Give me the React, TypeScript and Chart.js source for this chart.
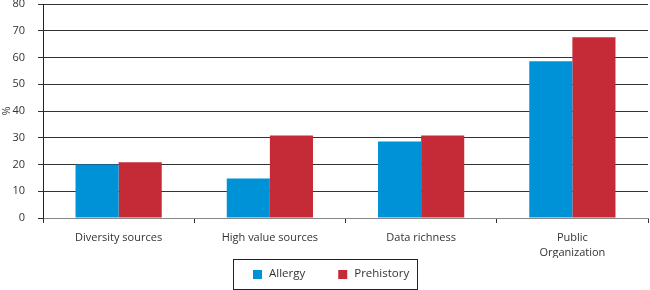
import React, { useEffect, useRef } from "react";
import { Chart, registerables } from "chart.js";

Chart.register(...registerables);

const categories: (string | string[])[] = [
  "Diversity sources",
  "High value sources",
  "Data richness",
  ["Public", "Organization"],
];
const allergy = [20, 14.8, 28.6, 58.6];
const prehistory = [20.8, 30.8, 30.8, 67.6];
const seriesNames = ["Allergy", "Prehistory"];
const yTitle = "%";

const FONT = "'Open Sans', sans-serif";
const TEXT = "#333";

const boxedLegend = {
  id: "boxedLegend",
  afterDraw(chart: any) {
    const ctx = chart.ctx;
    const sets = chart.data.datasets;
    ctx.save();
    ctx.font = `11.5px ${FONT}`;
    const sq = 9;
    const gapText = 7;
    const gapItem = 33;
    const widths = sets.map((d: any) => ctx.measureText(d.label).width);
    let content = 0;
    widths.forEach((w: number, i: number) => {
      content += sq + gapText + w + (i < widths.length - 1 ? gapItem : 0);
    });
    const padL = 20;
    const padR = 8;
    const boxW = content + padL + padR;
    const boxH = 30;
    const left = Math.round(chart.width / 2 - boxW / 2);
    const top = chart.chartArea.bottom + 41;
    ctx.strokeStyle = "#222";
    ctx.lineWidth = 1;
    ctx.strokeRect(left + 0.5, top + 0.5, Math.round(boxW), boxH);
    const cy = top + boxH / 2;
    let x = left + padL;
    ctx.textBaseline = "middle";
    ctx.textAlign = "left";
    sets.forEach((d: any, i: number) => {
      ctx.fillStyle = d.backgroundColor;
      ctx.fillRect(x, Math.round(cy - sq / 2), sq, sq);
      x += sq + gapText;
      ctx.fillStyle = TEXT;
      ctx.fillText(d.label, x, cy);
      x += widths[i] + gapItem;
    });
    ctx.restore();
  },
};

export default function App() {
  const ref = useRef<HTMLCanvasElement>(null);
  useEffect(() => {
    document.body.style.margin = "0";
    const chart = new Chart(ref.current!, {
      type: "bar",
      data: {
        labels: categories,
        datasets: [
          { label: seriesNames[0], data: allergy, backgroundColor: "#0092d7", borderWidth: 0 },
          { label: seriesNames[1], data: prehistory, backgroundColor: "#c52b36", borderWidth: 0 },
        ],
      },
      options: {
        animation: false,
        responsive: false,
        layout: { padding: { top: 4, right: 2, left: 0, bottom: 32 } },
        datasets: { bar: { categoryPercentage: 0.57, barPercentage: 1 } },
        plugins: {
          tooltip: { enabled: false },
          legend: { display: false },
        },
        scales: {
          x: {
            grid: { drawOnChartArea: false, drawTicks: true, tickLength: 5, color: "#333", offset: true },
            border: { display: true, color: "#888" },
            ticks: { color: TEXT, font: { family: FONT, size: 11, lineHeight: 1.3 }, padding: 8, maxRotation: 0 },
            afterFit(scale: any) {
              scale.height = 40;
              scale.paddingLeft = 0;
              scale.paddingRight = 0;
            },
          },
          y: {
            min: 0,
            max: 80,
            ticks: { stepSize: 10, color: TEXT, font: { family: FONT, size: 11 }, padding: 13 },
            grid: { color: "#333", tickLength: 5 },
            border: { display: true, color: "#222" },
            title: { display: true, text: yTitle, color: TEXT, font: { family: FONT, size: 11 }, padding: 0 },
            afterFit(scale: any) {
              scale.width = 43;
              scale.paddingTop = 0;
              scale.paddingBottom = 0;
            },
          },
        },
      },
      plugins: [boxedLegend],
    });
    return () => chart.destroy();
  }, []);
  return <canvas ref={ref} width={650} height={290} style={{ display: "block" }} />;
}
